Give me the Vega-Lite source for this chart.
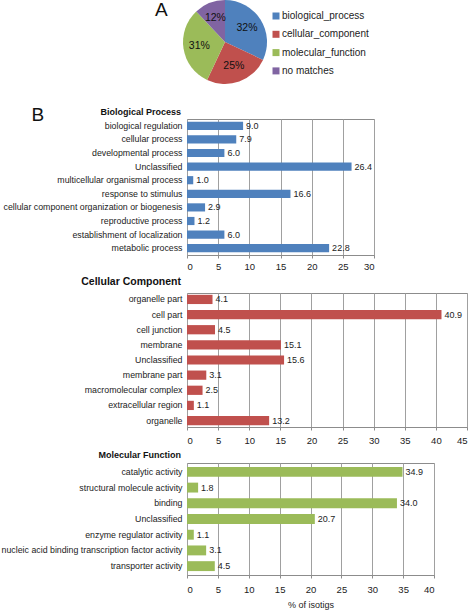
{
  "$schema": "https://vega.github.io/schema/vega-lite/v6.json",
  "padding": {"left": 0, "top": 0, "right": 2, "bottom": 0},
  "background": "white",
  "spacing": 5,
  "resolve": {"scale": {"color": "independent"}, "legend": {"color": "independent"}},
  "config": {
    "font": "Liberation Sans",
    "view": {"stroke": "#8c8c8c"},
    "axisX": {"grid": true, "gridColor": "#a0a0a0", "gridOpacity": 1, "tickSize": 3, "tickColor": "#8c8c8c", "domainColor": "#8c8c8c", "labelFontSize": 9.5, "labelPadding": 3, "labelColor": "#222", "titleFontWeight": "normal", "titleFontSize": 9, "titleColor": "#222"},
    "axisY": {"ticks": false, "domain": false, "grid": false, "labelPadding": 5, "labelFontSize": 8.8, "labelLimit": 300, "labelColor": "#222"},
    "title": {"color": "#111", "fontWeight": "bold", "frame": "group"}
  },
  "vconcat": [
    {
      "width": 76,
      "height": 84,
      "view": {"stroke": null},
      "title": {"text": "A", "anchor": "start", "align": "left", "offset": -20, "dx": -32, "fontSize": 19, "fontWeight": "normal"},
      "data": {"values": [
        {"category": "biological_process", "pct": 32, "label": "32%", "idx": 1},
        {"category": "cellular_component", "pct": 25, "label": "25%", "idx": 2},
        {"category": "molecular_function", "pct": 31, "label": "31%", "idx": 3},
        {"category": "no matches", "pct": 12, "label": "12%", "idx": 4}
      ]},
      "encoding": {
        "theta": {"field": "pct", "type": "quantitative", "stack": true},
        "order": {"field": "idx", "type": "quantitative"}
      },
      "layer": [
        {
          "mark": {"type": "arc", "outerRadius": 42},
          "encoding": {
            "color": {"field": "category", "type": "nominal",
              "scale": {"domain": ["biological_process", "cellular_component", "molecular_function", "no matches"], "range": ["#4F81BD", "#C0504D", "#9BBB59", "#8064A2"]},
              "legend": {"orient": "right", "title": null, "offset": -3, "padding": 11, "rowPadding": 8.3, "symbolType": "square", "symbolSize": 49, "symbolStrokeWidth": 0, "labelFontSize": 10, "labelOffset": 1, "labelColor": "#222"}}
          }
        },
        {
          "mark": {"type": "text", "radius": 26, "fontSize": 10.5, "color": "#111"},
          "encoding": {"text": {"field": "label"}}
        }
      ]
    },
    {
      "width": 187,
      "height": 136,
      "title": {"text": ["", "Biological Process"], "lineHeight": 15, "anchor": "start", "align": "right", "dx": -6, "offset": -11, "fontSize": 9},
      "data": {"values": [
        {"term": "biological regulation", "pct": 9.0},
        {"term": "cellular process", "pct": 7.9},
        {"term": "developmental process", "pct": 6.0},
        {"term": "Unclassified", "pct": 26.4},
        {"term": "multicellular organismal process", "pct": 1.0},
        {"term": "response to stimulus", "pct": 16.6},
        {"term": "cellular component organization or biogenesis", "pct": 2.9},
        {"term": "reproductive process", "pct": 1.2},
        {"term": "establishment of localization", "pct": 6.0},
        {"term": "metabolic process", "pct": 22.8}
      ]},
      "encoding": {
        "y": {"field": "term", "type": "nominal", "sort": null, "scale": {"paddingInner": 0.4, "paddingOuter": 0.2},
          "axis": {"title": "B", "titleAngle": 0, "titleFontSize": 19, "titleFontWeight": "normal", "titleAlign": "left", "titleBaseline": "alphabetic", "titleX": -156, "titleY": 1.5, "titleColor": "#111"}},
        "x": {"field": "pct", "type": "quantitative", "scale": {"domain": [0, 30], "nice": false},
          "axis": {"values": [0, 5, 10, 15, 20, 25, 30], "title": null}}
      },
      "layer": [
        {"mark": {"type": "bar", "color": "#4F81BD"}},
        {"mark": {"type": "text", "align": "left", "dx": 3, "fontSize": 9, "color": "#222"},
          "encoding": {"text": {"field": "pct", "type": "quantitative", "format": ".1f"}}}
      ]
    },
    {
      "width": 280,
      "height": 134,
      "title": {"text": "Cellular Component", "anchor": "start", "align": "right", "dx": -6, "offset": 6, "fontSize": 10.5},
      "data": {"values": [
        {"term": "organelle part", "pct": 4.1},
        {"term": "cell part", "pct": 40.9},
        {"term": "cell junction", "pct": 4.5},
        {"term": "membrane", "pct": 15.1},
        {"term": "Unclassified", "pct": 15.6},
        {"term": "membrane part", "pct": 3.1},
        {"term": "macromolecular complex", "pct": 2.5},
        {"term": "extracellular region", "pct": 1.1},
        {"term": "organelle", "pct": 13.2}
      ]},
      "encoding": {
        "y": {"field": "term", "type": "nominal", "sort": null, "scale": {"paddingInner": 0.39, "paddingOuter": 0.12}, "axis": {"title": null}},
        "x": {"field": "pct", "type": "quantitative", "scale": {"domain": [0, 45], "nice": false},
          "axis": {"values": [0, 5, 10, 15, 20, 25, 30, 35, 40, 45], "title": null, "labelPadding": 5}}
      },
      "layer": [
        {"mark": {"type": "bar", "color": "#C0504D"}},
        {"mark": {"type": "text", "align": "left", "dx": 3, "fontSize": 9, "color": "#222"},
          "encoding": {"text": {"field": "pct", "type": "quantitative", "format": ".1f"}}}
      ]
    },
    {
      "width": 247,
      "height": 112,
      "title": {"text": "Molecular Function", "anchor": "start", "align": "right", "dx": -6, "offset": 3, "fontSize": 9},
      "data": {"values": [
        {"term": "catalytic activity", "pct": 34.9},
        {"term": "structural molecule activity", "pct": 1.8},
        {"term": "binding", "pct": 34.0},
        {"term": "Unclassified", "pct": 20.7},
        {"term": "enzyme regulator activity", "pct": 1.1},
        {"term": "nucleic acid binding transcription factor activity", "pct": 3.1},
        {"term": "transporter activity", "pct": 4.5}
      ]},
      "encoding": {
        "y": {"field": "term", "type": "nominal", "sort": null, "scale": {"paddingInner": 0.37, "paddingOuter": 0.25}, "axis": {"title": null}},
        "x": {"field": "pct", "type": "quantitative", "scale": {"domain": [0, 40], "nice": false},
          "axis": {"values": [0, 5, 10, 15, 20, 25, 30, 35, 40], "title": "% of isotigs", "titlePadding": 7, "labelPadding": 6}}
      },
      "layer": [
        {"mark": {"type": "bar", "color": "#9BBB59"}},
        {"mark": {"type": "text", "align": "left", "dx": 3, "fontSize": 9, "color": "#222"},
          "encoding": {"text": {"field": "pct", "type": "quantitative", "format": ".1f"}}}
      ]
    }
  ]
}
